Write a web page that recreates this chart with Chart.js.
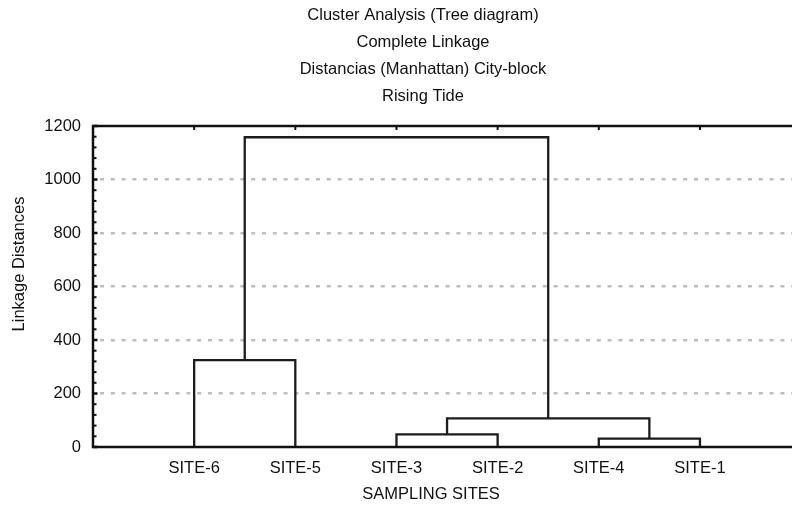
<!DOCTYPE html>
<html>
<head>
<meta charset="utf-8">
<title>Cluster Analysis (Tree diagram)</title>
<script src="https://cdn.jsdelivr.net/npm/chart.js@4/dist/chart.umd.min.js"></script>
<style>
  html, body { margin: 0; padding: 0; background: #ffffff; }
  #wrap { width: 792px; height: 509px; }
</style>
</head>
<body>
<div id="wrap"><canvas id="c" width="792" height="509"></canvas></div>
<script>
// Heading lines above the plot
const titleLines = [
  'Cluster Analysis (Tree diagram)',
  'Complete Linkage',
  'Distancias (Manhattan) City-block',
  'Rising Tide'
];
const xAxisTitle = 'SAMPLING SITES';
const yAxisTitle = 'Linkage Distances';

// Leaves in tree order (left to right)
const sites = ['SITE-6', 'SITE-5', 'SITE-3', 'SITE-2', 'SITE-4', 'SITE-1'];

// Amalgamation schedule: node ids 0-5 are the sites above,
// node 6 + k is the cluster formed at step k.
const joinLeft   = [4, 2, 7, 0, 9];
const joinRight  = [5, 3, 6, 1, 8];
const joinHeight = [31, 47, 107, 325, 1158];

// Vertical axis tick labels
const yTickValues = [0, 200, 400, 600, 800, 1000, 1200];

const FONT = "'Liberation Sans', Arial, sans-serif";
const INK = '#111111';

// Node positions: leaves sit at 1..n, a joined cluster sits midway over its two parts
const nodeX = sites.map((_, i) => i + 1);
const nodeY = sites.map(() => 0);
joinLeft.forEach((l, k) => {
  nodeX.push((nodeX[l] + nodeX[joinRight[k]]) / 2);
  nodeY.push(joinHeight[k]);
});

// One bracket-shaped polyline per join
const linkSets = joinLeft.map((l, k) => {
  const r = joinRight[k];
  const h = joinHeight[k];
  return {
    data: [
      { x: nodeX[l], y: nodeY[l] },
      { x: nodeX[l], y: h },
      { x: nodeX[r], y: h },
      { x: nodeX[r], y: nodeY[r] }
    ],
    showLine: true,
    borderColor: '#1c1c1c',
    borderWidth: 2.3,
    pointRadius: 0,
    tension: 0,
    fill: false,
    clip: false
  };
});

// Axis frame with inward ticks, plus the heading and the axis titles
const framePlugin = {
  id: 'frame',
  afterDraw(chart) {
    const { ctx, chartArea: a } = chart;
    const xs = chart.scales.x, ys = chart.scales.y;
    ctx.save();
    ctx.strokeStyle = INK;
    ctx.lineWidth = 2.5;
    ctx.lineCap = 'square';
    ctx.beginPath();
    ctx.moveTo(a.right + 2, a.top);
    ctx.lineTo(a.left, a.top);
    ctx.lineTo(a.left, a.bottom);
    ctx.lineTo(a.right + 2, a.bottom);
    ctx.stroke();

    ctx.lineCap = 'butt';
    const yMax = ys.max;
    for (let v = 0; v <= yMax; v += 40) {
      const y = ys.getPixelForValue(v);
      const major = v % 200 === 0;
      ctx.lineWidth = major ? 2.5 : 2;
      ctx.beginPath();
      ctx.moveTo(a.left, y);
      ctx.lineTo(a.left + (major ? 4.5 : 3.5), y);
      ctx.stroke();
    }
    ctx.lineWidth = 2;
    nodeX.slice(0, sites.length).forEach(v => {
      const x = xs.getPixelForValue(v);
      ctx.beginPath();
      ctx.moveTo(x, a.top);
      ctx.lineTo(x, a.top + 4);
      ctx.stroke();
    });

    ctx.fillStyle = INK;
    ctx.font = '16.5px ' + FONT;
    ctx.textAlign = 'center';
    ctx.textBaseline = 'middle';
    titleLines.forEach((t, i) => ctx.fillText(t, 423, 15 + i * 27));
    ctx.fillText(xAxisTitle, 431, 494);

    ctx.translate(19, 264);
    ctx.rotate(-Math.PI / 2);
    ctx.fillText(yAxisTitle, 0, 0);
    ctx.restore();
  }
};

new Chart(document.getElementById('c'), {
  type: 'scatter',
  data: { datasets: linkSets },
  options: {
    responsive: false,
    animation: false,
    devicePixelRatio: 1,
    layout: { padding: { top: 126, right: 0, bottom: 0, left: 0 } },
    plugins: {
      legend: { display: false },
      tooltip: { enabled: false },
      title: { display: false }
    },
    scales: {
      x: {
        type: 'linear',
        min: 0,
        max: 6.91,
        afterFit(scale) { scale.height = 62; },
        afterBuildTicks(scale) {
          scale.ticks = nodeX.slice(0, sites.length).map(v => ({ value: v }));
        },
        ticks: {
          autoSkip: false,
          maxRotation: 0,
          padding: 12,
          color: INK,
          font: { family: FONT, size: 16.5 },
          callback: (v) => sites[Math.round(v) - 1] || ''
        },
        grid: { display: false, drawTicks: false },
        border: { display: false }
      },
      y: {
        min: 0,
        max: 1200,
        afterFit(scale) { scale.width = 93; },
        afterBuildTicks(scale) {
          scale.ticks = yTickValues.map(v => ({ value: v }));
        },
        ticks: {
          padding: 12,
          color: INK,
          font: { family: FONT, size: 16.5 },
          callback: (v) => String(v)
        },
        grid: {
          drawTicks: false,
          lineWidth: 2.5,
          color: (c) => (c.tick && (c.tick.value === 0 || c.tick.value === 1200)) ? 'rgba(0,0,0,0)' : '#bdbdbd'
        },
        border: { display: false, dash: [4, 6.8], dashOffset: -7 },
        title: { display: false }
      }
    }
  },
  plugins: [framePlugin]
});
</script>
</body>
</html>
